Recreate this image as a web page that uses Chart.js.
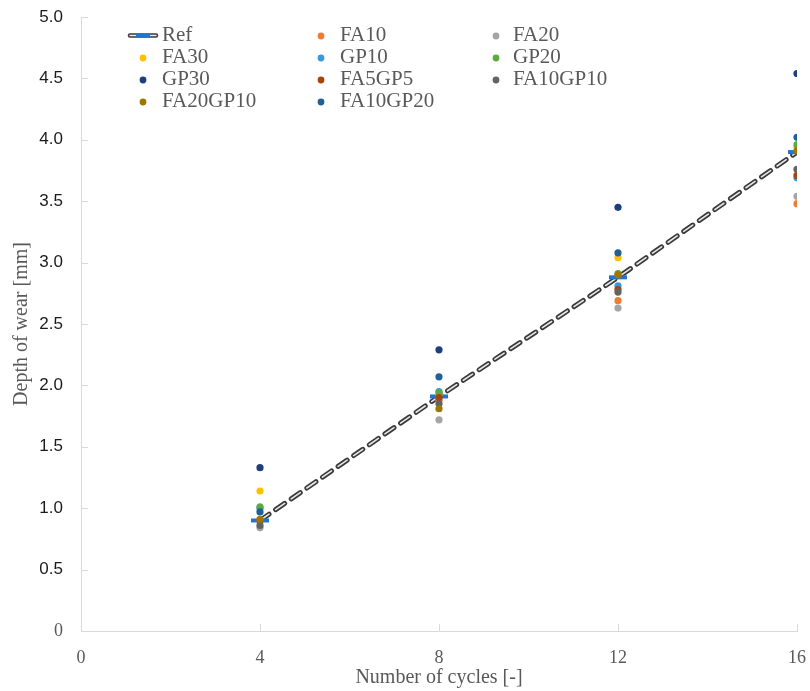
<!DOCTYPE html>
<html>
<head>
<meta charset="utf-8">
<script src="https://cdn.jsdelivr.net/npm/chart.js@4.4.1/dist/chart.umd.min.js"></script>
<style>
  html, body { margin: 0; padding: 0; background: #fff; }
</style>
</head>
<body>
<canvas id="myChart" width="810" height="691"></canvas>
<script>
// Datos
const cycles = [4, 8, 12, 16];
const seriesNames = ["Ref", "FA10", "FA20", "FA30", "GP10", "GP20", "GP30", "FA5GP5", "FA10GP10", "FA20GP10", "FA10GP20"];
const ref = [0.90, 1.91, 2.88, 3.90];
const fa10 = [0.90, 1.88, 2.69, 3.48];
const fa20 = [0.84, 1.72, 2.63, 3.54];
const fa30 = [1.14, 1.93, 3.04, 3.94];
const gp10 = [1.00, 1.95, 2.81, 3.69];
const gp20 = [1.01, 1.94, 2.91, 3.96];
const gp30 = [1.33, 2.29, 3.45, 4.54];
const fa5gp5 = [0.90, 1.90, 2.78, 3.71];
const fa10gp10 = [0.86, 1.85, 2.76, 3.76];
const fa20gp10 = [0.91, 1.81, 2.90, 3.91];
const fa10gp20 = [0.97, 2.07, 3.08, 4.02];
const xTicks = [0, 4, 8, 12, 16];
const yTicks = [0, 0.5, 1, 1.5, 2, 2.5, 3, 3.5, 4, 4.5, 5];

const allValues = [ref, fa10, fa20, fa30, gp10, gp20, gp30, fa5gp5, fa10gp10, fa20gp10, fa10gp20];
const colors = ["#2473CC", "#ED7D31", "#A5A5A5", "#FFC000", "#3A9AD9", "#5DAA3F", "#1F3F7A", "#A8430B", "#636363", "#9E7700", "#1D6198"];

const SERIF = "'Liberation Serif', 'Times New Roman', serif";
const SANS = "'Liberation Sans', Arial, sans-serif";
const TEXT_GRAY = "#595959";
const AXIS_GRAY = "#D9D9D9";

const toPoints = (vals) => vals.map((v, i) => ({ x: cycles[i], y: v }));

// Linea de tendencia (doble linea discontinua)
const datasets = [
  {
    label: "refOuter",
    type: "line",
    data: toPoints(ref),
    borderColor: "#3a3a3a",
    borderWidth: 5,
    borderDash: [11, 8],
    borderCapStyle: "round",
    pointRadius: 0,
    fill: false,
    order: 30,
  },
  {
    label: "refInner",
    type: "line",
    data: toPoints(ref),
    borderColor: "#e8e8e8",
    borderWidth: 1.6,
    borderDash: [11, 8],
    borderCapStyle: "round",
    pointRadius: 0,
    fill: false,
    order: 29,
  },
];

allValues.forEach((vals, i) => {
  const isRef = i === 0;
  datasets.push({
    label: seriesNames[i],
    data: toPoints(vals),
    showLine: false,
    pointStyle: isRef ? "line" : "circle",
    pointRadius: isRef ? 9 : 3.6,
    pointBorderWidth: isRef ? 4 : 0,
    pointBackgroundColor: colors[i],
    pointBorderColor: colors[i],
    order: 20 - i,
  });
});

// Marcas de escala hacia dentro
const innerTicks = {
  id: "innerTicks",
  beforeDatasetsDraw(chart) {
    const { ctx, chartArea, scales } = chart;
    ctx.save();
    ctx.strokeStyle = AXIS_GRAY;
    ctx.lineWidth = 1;
    yTicks.forEach((v) => {
      const y = Math.round(scales.y.getPixelForValue(v)) + 0.5;
      ctx.beginPath();
      ctx.moveTo(chartArea.left, y);
      ctx.lineTo(chartArea.left + 7, y);
      ctx.stroke();
    });
    xTicks.forEach((v) => {
      const x = Math.round(scales.x.getPixelForValue(v)) + 0.5;
      ctx.beginPath();
      ctx.moveTo(x, chartArea.bottom);
      ctx.lineTo(x, chartArea.bottom - 7);
      ctx.stroke();
    });
    ctx.restore();
  },
};

// Leyenda en 3 columnas
const gridLegend = {
  id: "gridLegend",
  afterDatasetsDraw(chart) {
    const ctx = chart.ctx;
    const markX = [143, 321, 496];
    const textX = [162, 340, 513];
    ctx.save();
    ctx.font = "21px " + SERIF;
    ctx.textBaseline = "middle";
    seriesNames.forEach((name, i) => {
      const col = i % 3;
      const row = Math.floor(i / 3);
      const y = 35 + row * 22;
      if (i === 0) {
        ctx.lineCap = "round";
        ctx.strokeStyle = "#3a3a3a";
        ctx.lineWidth = 4.5;
        ctx.beginPath();
        ctx.moveTo(130, y + 0.5);
        ctx.lineTo(156, y + 0.5);
        ctx.stroke();
        ctx.strokeStyle = "#e8e8e8";
        ctx.lineWidth = 1.5;
        ctx.beginPath();
        ctx.moveTo(130, y + 0.5);
        ctx.lineTo(156, y + 0.5);
        ctx.stroke();
        ctx.lineCap = "butt";
        ctx.strokeStyle = colors[0];
        ctx.lineWidth = 3;
        ctx.beginPath();
        ctx.moveTo(136, y + 0.5);
        ctx.lineTo(150, y + 0.5);
        ctx.stroke();
      } else {
        ctx.fillStyle = colors[i];
        ctx.beginPath();
        ctx.arc(markX[col], y + 1, 3.4, 0, Math.PI * 2);
        ctx.fill();
      }
      ctx.fillStyle = TEXT_GRAY;
      ctx.fillText(name, textX[col], y);
    });
    ctx.restore();
  },
};

const ctx = document.getElementById("myChart").getContext("2d");
const myChart = new Chart(ctx, {
  type: "scatter",
  data: { datasets: datasets },
  options: {
    responsive: false,
    animation: false,
    layout: { padding: { top: 17, right: 13, left: 0, bottom: 0 } },
    plugins: {
      legend: { display: false },
      tooltip: { enabled: false },
    },
    scales: {
      x: {
        type: "linear",
        min: 0,
        max: 16,
        afterBuildTicks: (scale) => {
          scale.ticks = xTicks.map((v) => ({ value: v }));
        },
        afterFit: (scale) => {
          scale.height = 60;
          scale.paddingLeft = 0;
          scale.paddingRight = 0;
        },
        grid: { display: false },
        border: { display: true, color: AXIS_GRAY, width: 1 },
        ticks: {
          padding: 8,
          color: TEXT_GRAY,
          font: { family: SERIF, size: 18 },
        },
        title: {
          display: true,
          text: "Number of cycles [-]",
          color: TEXT_GRAY,
          font: { family: SERIF, size: 20 },
          padding: { top: 0, bottom: 1 },
        },
      },
      y: {
        type: "linear",
        min: 0,
        max: 5,
        afterBuildTicks: (scale) => {
          scale.ticks = yTicks.map((v) => ({ value: v }));
        },
        afterFit: (scale) => {
          scale.width = 81;
          scale.paddingTop = 0;
          scale.paddingBottom = 0;
        },
        grid: { display: false },
        border: { display: true, color: AXIS_GRAY, width: 1 },
        ticks: {
          padding: 10,
          color: (c) => (c.tick && c.tick.value === 0 ? TEXT_GRAY : "#1a1a1a"),
          font: (c) =>
            c.tick && c.tick.value === 0
              ? { family: SERIF, size: 18 }
              : { family: SANS, size: 17 },
          callback: function (value) {
            return value === 0 ? "0" : value.toFixed(1);
          },
        },
        title: {
          display: true,
          text: "Depth of wear [mm]",
          color: TEXT_GRAY,
          font: { family: SERIF, size: 20 },
          padding: { top: 10, bottom: 0 },
        },
      },
    },
  },
  plugins: [innerTicks, gridLegend],
});
</script>
</body>
</html>
